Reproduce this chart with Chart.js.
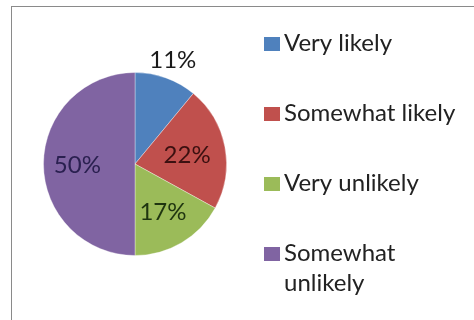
<!DOCTYPE html>
<html>
<head>
<meta charset="utf-8">
<script src="https://cdn.jsdelivr.net/npm/chart.js@4/dist/chart.umd.min.js"></script>
<style>
html,body{margin:0;padding:0;background:#fff;}
#wrap{position:relative;width:474px;height:320px;overflow:hidden;}
#frame{position:absolute;left:11px;top:6px;width:500px;height:400px;border-left:1.5px solid #8a8a8a;border-top:1.5px solid #8a8a8a;box-sizing:border-box;}
canvas{position:absolute;left:0;top:0;}
</style>
</head>
<body>
<div id="wrap">
<div id="frame"></div>
<canvas id="c" width="474" height="320"></canvas>
</div>
<script>
const categories = ["Very likely", "Somewhat likely", "Very unlikely", "Somewhat unlikely"];
const values = [11, 22, 17, 50];
const pctLabels = ["11%", "22%", "17%", "50%"];
const legendLines = [["Very likely"], ["Somewhat likely"], ["Very unlikely"], ["Somewhat", "unlikely"]];

const sliceColors = ["#4F81BD", "#C0504D", "#9BBB59", "#8064A2"];
const labelColors = ["#1a1a1a", "#3b1010", "#1f3510", "#2a2050"];
const labelRadius = [1.22, 0.58, 0.6, 0.63];
const FONT = "24px Lato";

const dataLabelPlugin = {
  id: 'dataLabels',
  afterDatasetsDraw(chart) {
    const ctx = chart.ctx;
    const meta = chart.getDatasetMeta(0);
    ctx.save();
    ctx.font = FONT;
    ctx.textAlign = 'center';
    ctx.textBaseline = 'middle';
    meta.data.forEach((arc, i) => {
      const p = arc.getProps(['x','y','startAngle','endAngle','outerRadius'], true);
      const mid = (p.startAngle + p.endAngle) / 2;
      const r = p.outerRadius * labelRadius[i];
      ctx.fillStyle = labelColors[i];
      ctx.fillText(pctLabels[i], p.x + Math.cos(mid) * r, p.y + Math.sin(mid) * r + 1);
    });
    ctx.restore();
  }
};

const legendPlugin = {
  id: 'sideLegend',
  afterDraw(chart) {
    const o = chart.options.plugins.sideLegend;
    const ctx = chart.ctx;
    ctx.save();
    ctx.font = FONT;
    ctx.textBaseline = 'alphabetic';
    ctx.textAlign = 'left';
    legendLines.forEach((lines, i) => {
      const base = o.firstBaseline + i * o.rowStep;
      ctx.fillStyle = sliceColors[i];
      ctx.fillRect(o.boxX, base - 14, 16, 14);
      ctx.fillStyle = '#222222';
      lines.forEach((t, j) => ctx.fillText(t, o.textX, base + j * o.lineStep));
    });
    ctx.restore();
  }
};

new Chart(document.getElementById('c'), {
  type: 'pie',
  data: {
    labels: categories,
    datasets: [{
      data: values,
      backgroundColor: sliceColors,
      borderColor: 'rgba(255,255,255,0.35)',
      borderWidth: 1
    }]
  },
  options: {
    responsive: false,
    animation: false,
    layout: { padding: { left: 43, right: 247, top: 72, bottom: 64 } },
    plugins: {
      legend: { display: false },
      tooltip: { enabled: false },
      sideLegend: { boxX: 264, textX: 284, firstBaseline: 51, rowStep: 70, lineStep: 30 }
    }
  },
  plugins: [dataLabelPlugin, legendPlugin]
});
</script>
</body>
</html>
